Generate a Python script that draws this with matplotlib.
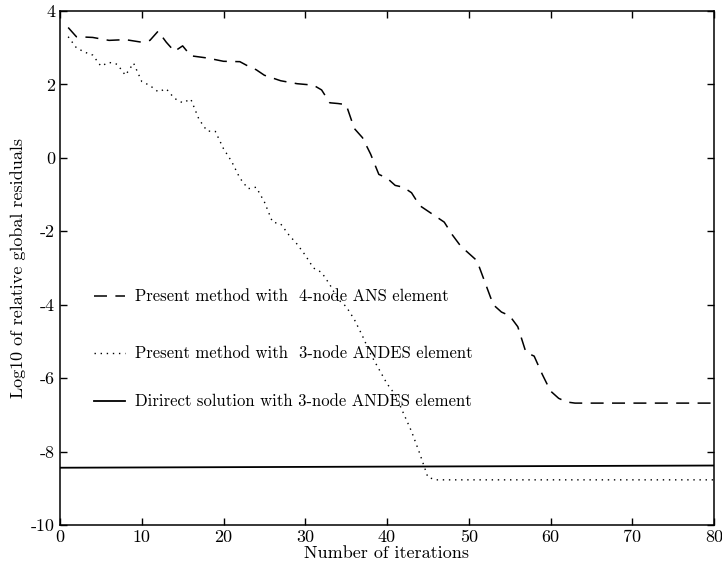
"""Convergence of relative global residuals: present method (ANS / ANDES) vs direct solution."""
import matplotlib
matplotlib.use("Agg")
import matplotlib.pyplot as plt

# dashed: present method, 4-node ANS element
ans_iter = [1, 2, 4, 6, 8, 10, 11, 12, 13, 14, 15, 16, 18, 20, 22, 23, 24, 25, 27, 29,
            31, 32, 33, 34, 35, 36, 37, 38, 39, 40, 41, 42, 43, 44, 45, 46, 47, 48, 49,
            50, 51, 52, 53, 54, 55, 56, 57, 58, 59, 60, 61, 62, 63, 80]
ans_res = [3.55, 3.3, 3.28, 3.2, 3.22, 3.15, 3.2, 3.45, 3.15, 2.9, 3.05, 2.78, 2.72, 2.63,
           2.62, 2.5, 2.4, 2.25, 2.1, 2.02, 1.98, 1.85, 1.5, 1.48, 1.45, 0.8, 0.55, 0.1,
           -0.45, -0.55, -0.75, -0.8, -0.95, -1.3, -1.45, -1.6, -1.75, -2.1, -2.4, -2.6,
           -2.8, -3.4, -4.0, -4.2, -4.3, -4.6, -5.3, -5.4, -5.9, -6.35, -6.55, -6.65,
           -6.68, -6.68]

# dotted: present method, 3-node ANDES element
andes_iter = list(range(1, 47)) + [80]
andes_res = [3.3, 3.0, 2.88, 2.8, 2.5, 2.6, 2.55, 2.25, 2.58, 2.08, 1.97, 1.8, 1.88, 1.62,
             1.5, 1.6, 1.05, 0.73, 0.72, 0.25, -0.1, -0.55, -0.84, -0.8, -1.2, -1.75,
             -1.8, -2.1, -2.35, -2.65, -3.0, -3.12, -3.45, -3.85, -4.05, -4.4, -4.85,
             -5.35, -5.75, -6.15, -6.45, -6.95, -7.45, -8.05, -8.7, -8.77, -8.77]

# solid: direct solution, 3-node ANDES element
direct_iter = [0, 80]
direct_res = [-8.44, -8.38]

LABELS = ["Present method with  4-node ANS element",
          "Present method with  3-node ANDES element",
          "Dirirect solution with 3-node ANDES element"]

plt.rcParams["font.family"] = ["cmr10", "DejaVu Serif"]
plt.rcParams["axes.unicode_minus"] = False
plt.rcParams["axes.formatter.use_mathtext"] = False

fig = plt.figure(figsize=(7.22, 5.71), dpi=100)
ax = fig.add_axes([60 / 722, 1 - 525 / 571, 654 / 722, 514 / 571])

dash = dict(color="black", lw=1.1, ls=(0, (8.5, 5.5)))
dots = dict(color="black", lw=1.0, ls=(0, (1.0, 3.4)))
solid = dict(color="black", lw=1.3, ls="-")

ax.plot(ans_iter, ans_res, **dash)
ax.plot(andes_iter, andes_res, **dots)
ax.plot(direct_iter, direct_res, **solid)

# legend drawn in data space, like the original
for yy, style, lab in zip([-3.76, -5.32, -6.62], [dash, dots, solid], LABELS):
    ax.plot([4.2, 7.9], [yy, yy], **style)
    ax.text(9.2, yy, lab, fontsize=12, va="center", ha="left")

ax.set_xlim(0, 80)
ax.set_ylim(-10, 4)
ax.set_xticks(range(0, 81, 10))
ax.set_yticks(range(-10, 5, 2))
ax.tick_params(direction="in", length=5, width=1, top=True, right=True, labelsize=13)
for s in ax.spines.values():
    s.set_linewidth(1.1)
ax.set_xlabel("Number of iterations", fontsize=13, labelpad=0)
ax.set_ylabel("Log10 of relative global residuals", fontsize=13, labelpad=4)

fig.savefig("out.png", dpi=100)
